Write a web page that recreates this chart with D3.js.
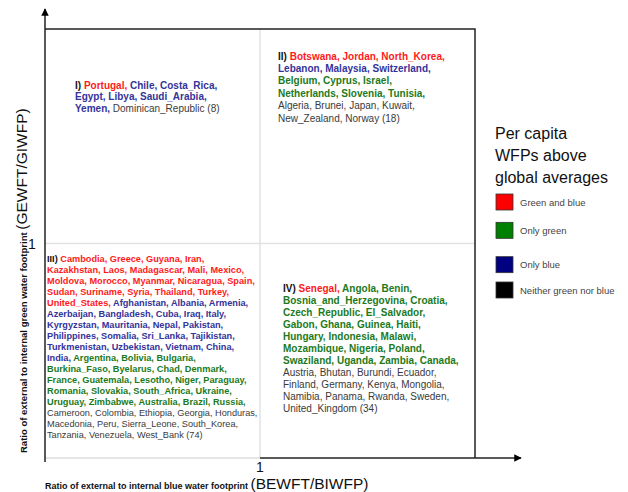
<!DOCTYPE html>
<html>
<head>
<meta charset="utf-8">
<script src="https://cdn.jsdelivr.net/npm/d3@7"></script>
<style>
  body { margin: 0; background: #fff; }
  svg text { font-family: "Liberation Sans", Arial, sans-serif; white-space: pre; }
</style>
</head>
<body>
<svg id="chart" width="628" height="492"></svg>
<script>
// ====
// DATA
// ====

const categories = ["both", "blue", "green", "neither"];
const categoryLabels = ["Green and blue", "Only green", "Only blue", "Neither green nor blue"];
const legendKeys = ["both", "green", "blue", "neither"];

// quadrant I: high green ratio, low blue ratio
const q1Both = ["Portugal"];
const q1Blue = ["Chile", "Costa_Rica", "Egypt", "Libya", "Saudi_Arabia", "Yemen"];
const q1Green = [];
const q1Neither = ["Dominican_Republic"];
const q1Lines = [3, 3, 2];

// quadrant II: both ratios high
const q2Both = ["Botswana", "Jordan", "North_Korea"];
const q2Blue = ["Lebanon", "Malaysia", "Switzerland"];
const q2Green = ["Belgium", "Cyprus", "Israel", "Netherlands", "Slovenia", "Tunisia"];
const q2Neither = ["Algeria", "Brunei", "Japan", "Kuwait", "New_Zealand", "Norway"];
const q2Lines = [3, 3, 3, 3, 4, 2];

// quadrant III: both ratios low
const q3Both = ["Cambodia", "Greece", "Guyana", "Iran", "Kazakhstan", "Laos", "Madagascar",
  "Mali", "Mexico", "Moldova", "Morocco", "Myanmar", "Nicaragua", "Spain", "Sudan",
  "Suriname", "Syria", "Thailand", "Turkey", "United_States"];
const q3Blue = ["Afghanistan", "Albania", "Armenia", "Azerbaijan", "Bangladesh", "Cuba",
  "Iraq", "Italy", "Kyrgyzstan", "Mauritania", "Nepal", "Pakistan", "Philippines",
  "Somalia", "Sri_Lanka", "Tajikistan", "Turkmenistan", "Uzbekistan", "Vietnam",
  "China", "India"];
const q3Green = ["Argentina", "Bolivia", "Bulgaria", "Burkina_Faso", "Byelarus", "Chad",
  "Denmark", "France", "Guatemala", "Lesotho", "Niger", "Paraguay", "Romania",
  "Slovakia", "South_Africa", "Ukraine", "Uruguay", "Zimbabwe", "Australia",
  "Brazil", "Russia"];
const q3Neither = ["Cameroon", "Colombia", "Ethiopia", "Georgia", "Honduras", "Macedonia",
  "Peru", "Sierra_Leone", "South_Korea", "Tanzania", "Venezuela", "West_Bank"];
const q3Lines = [4, 5, 5, 5, 4, 5, 4, 4, 4, 4, 4, 5, 4, 5, 5, 4, 3];

// quadrant IV: high blue ratio, low green ratio
const q4Both = ["Senegal"];
const q4Blue = [];
const q4Green = ["Angola", "Benin", "Bosnia_and_Herzegovina", "Croatia", "Czech_Republic",
  "El_Salvador", "Gabon", "Ghana", "Guinea", "Haiti", "Hungary", "Indonesia", "Malawi",
  "Mozambique", "Nigeria", "Poland", "Swaziland", "Uganda", "Zambia", "Canada"];
const q4Neither = ["Austria", "Bhutan", "Burundi", "Ecuador", "Finland", "Germany", "Kenya",
  "Mongolia", "Namibia", "Panama", "Rwanda", "Sweden", "United_Kingdom"];
const q4Lines = [3, 2, 2, 4, 3, 3, 4, 4, 4, 4, 1];

// ======
// LAYOUT
// ======

const svg = d3.select("#chart");

const x = d3.scaleLinear().domain([0, 2]).range([45, 475]);
const y = d3.scaleLinear().domain([0, 2]).range([458, 29]);

const textColor = d3.scaleOrdinal()
  .domain(categories)
  .range(["#ff1a1a", "#33339a", "#1c7a1c", "#3a3a3a"]);
const swatchColor = d3.scaleOrdinal()
  .domain(["both", "green", "blue", "neither"])
  .range(["#ff0000", "#008000", "#000080", "#000000"]);

svg.append("defs").append("marker")
  .attr("id", "arrow")
  .attr("viewBox", "0 0 10 10")
  .attr("refX", 9).attr("refY", 5)
  .attr("markerWidth", 5).attr("markerHeight", 5)
  .attr("orient", "auto")
  .append("path")
  .attr("d", "M0,0 L10,5 L0,10 z")
  .attr("fill", "#000");

// light quadrant dividers
svg.append("line")
  .attr("x1", x(1)).attr("x2", x(1))
  .attr("y1", y(2)).attr("y2", y(0))
  .attr("stroke", "#e2e2e2").attr("stroke-width", 1.5);
svg.append("line")
  .attr("x1", x(0)).attr("x2", x(2))
  .attr("y1", y(1)).attr("y2", y(1))
  .attr("stroke", "#e2e2e2").attr("stroke-width", 1.5);
svg.append("line")
  .attr("x1", x(0)).attr("x2", x(1))
  .attr("y1", y(0)).attr("y2", y(0))
  .attr("stroke", "#dcdcdc").attr("stroke-width", 1.5);

// frame: top, right
svg.append("path")
  .attr("d", `M${x(0)},${y(2)} H${x(2)} V${y(0)}`)
  .attr("fill", "none").attr("stroke", "#222").attr("stroke-width", 1.5);

// axes with arrows
svg.append("line")
  .attr("x1", x(0)).attr("x2", x(0))
  .attr("y1", y(0) + 4).attr("y2", 9)
  .attr("stroke", "#222").attr("stroke-width", 1.5)
  .attr("marker-end", "url(#arrow)");
svg.append("line")
  .attr("x1", x(1)).attr("x2", 521)
  .attr("y1", y(0)).attr("y2", y(0))
  .attr("stroke", "#222").attr("stroke-width", 1.5)
  .attr("marker-end", "url(#arrow)");

// tick "1" labels
svg.append("text")
  .attr("x", x(1)).attr("y", 472)
  .attr("text-anchor", "middle")
  .attr("font-size", 14).attr("fill", "#111")
  .text("1");
svg.append("text")
  .attr("x", 32).attr("y", y(1) + 5)
  .attr("text-anchor", "middle")
  .attr("font-size", 14).attr("fill", "#111")
  .text("1");

// axis titles
const xTitle = svg.append("text")
  .attr("x", 45).attr("y", 489)
  .attr("fill", "#111");
xTitle.append("tspan").attr("font-size", 9).attr("font-weight", "bold")
  .text("Ratio of external to internal blue water footprint ");
xTitle.append("tspan").attr("font-size", 15.5).text("(BEWFT/BIWFP)");

const yTitle = svg.append("text")
  .attr("transform", "translate(27,453) rotate(-90)")
  .attr("fill", "#111");
yTitle.append("tspan").attr("font-size", 9.5).attr("font-weight", "bold")
  .text("Ratio of external to internal green water footprint ");
yTitle.append("tspan").attr("font-size", 15.5).text("(GEWFT/GIWFP)");

// ==============
// QUADRANT TEXTS
// ==============

const quadrants = [
  { label: "I)", groups: [q1Both, q1Blue, q1Green, q1Neither], lines: q1Lines, x: 75, y: 88.5, step: 11.5, size: 10 },
  { label: "II)", groups: [q2Both, q2Blue, q2Green, q2Neither], lines: q2Lines, x: 278, y: 59.5, step: 12.4, size: 10 },
  { label: "III)", groups: [q3Both, q3Blue, q3Green, q3Neither], lines: q3Lines, x: 47, y: 261.5, step: 11.06, size: 9.2 },
  { label: "IV)", groups: [q4Both, q4Blue, q4Green, q4Neither], lines: q4Lines, x: 283, y: 291.5, step: 12, size: 10 }
];

quadrants.forEach(function (q) {
  const tokens = [];
  q.groups.forEach(function (list, gi) {
    list.forEach(function (name) {
      tokens.push({ name: name, cat: categories[gi] });
    });
  });
  const total = tokens.length;
  tokens.forEach(function (t, i) {
    t.text = i === total - 1 ? t.name : t.name + ",";
  });

  let k = 0;
  q.lines.forEach(function (n, li) {
    const row = tokens.slice(k, k + n);
    k += n;
    const txt = svg.append("text")
      .attr("x", q.x)
      .attr("y", q.y + li * q.step)
      .attr("font-size", q.size);
    if (li === 0) {
      txt.append("tspan").attr("font-weight", "bold").attr("fill", "#111").text(q.label + " ");
    }
    row.forEach(function (t, j) {
      txt.append("tspan")
        .attr("fill", textColor(t.cat))
        .attr("font-weight", t.cat === "neither" ? "normal" : "bold")
        .text((j > 0 ? " " : "") + t.text);
    });
    if (k === total) {
      txt.append("tspan").attr("fill", "#3a3a3a").text(" (" + total + ")");
    }
  });
});

// ======
// LEGEND
// ======

const legendTitle = ["Per capita", "WFPs above", "global averages"];
svg.append("g").selectAll("text")
  .data(legendTitle)
  .enter()
  .append("text")
  .attr("x", 495)
  .attr("y", (d, i) => 139 + i * 22)
  .attr("font-size", 16)
  .attr("fill", "#111")
  .text(d => d);

const legendY = d3.scalePoint()
  .domain(legendKeys)
  .range([202, 290]);
const legendOffsets = { both: 0, green: -1, blue: 4, neither: 0 };

const legend = svg.append("g").selectAll("g")
  .data(legendKeys)
  .enter()
  .append("g")
  .attr("transform", d => `translate(496,${legendY(d) + legendOffsets[d]})`);

legend.append("rect")
  .attr("x", 0).attr("y", -8)
  .attr("width", 17).attr("height", 16)
  .attr("fill", d => swatchColor(d))
  .attr("stroke", "#333").attr("stroke-width", 0.8);

legend.append("text")
  .attr("x", 24).attr("y", 3.5)
  .attr("font-size", 9.5)
  .attr("fill", "#444")
  .text((d, i) => categoryLabels[i]);
</script>
</body>
</html>
